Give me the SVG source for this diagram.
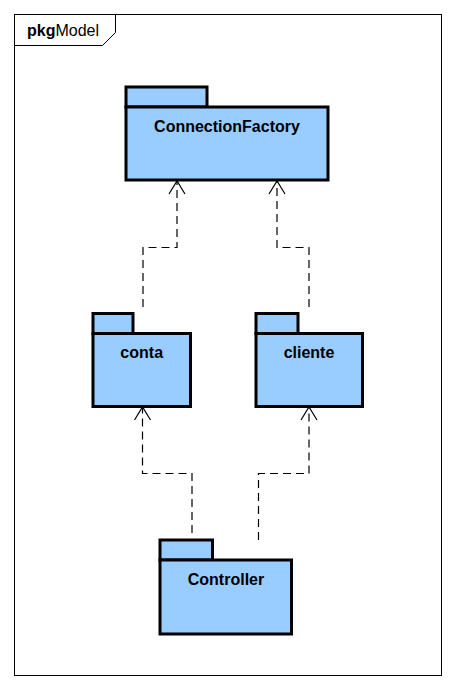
<svg xmlns="http://www.w3.org/2000/svg" width="454" height="688" viewBox="0 0 454 688">
<style>
.pk{fill:#99CCFF;stroke:#000;stroke-width:3}
.lbl{font-family:"Liberation Sans",Arial,sans-serif;font-size:16px;font-weight:bold;text-anchor:middle;fill:#000}
.dep{fill:none;stroke:#000;stroke-width:1.2;stroke-dasharray:8,5}
.ah{fill:none;stroke:#000;stroke-width:1.2}
</style>
<rect width="454" height="688" fill="#fff"/>
<g id="frame">
<rect x="14.5" y="14.5" width="427" height="661" fill="none" stroke="#000" stroke-width="1"/>
<path d="M14.5 45.5 H102.5 L115.5 32.5 V14.5" fill="none" stroke="#000" stroke-width="1"/>
<text x="27" y="36" font-family="'Liberation Sans',Arial,sans-serif" font-size="16"><tspan font-weight="bold">pkg</tspan>Model</text>
</g>
<g id="connectors">
<path class="dep" d="M143 307 V247.5 H177 V182"/>
<path class="ah" d="M169 194 L177 181 L185 194"/>
<path class="dep" d="M309 307 V247.5 H277 V182"/>
<path class="ah" d="M269 194 L277 181 L285 194"/>
<path class="dep" d="M192 533 V473.5 H142.5 V408"/>
<path class="ah" d="M134.5 420 L142.5 407 L150.5 420"/>
<path class="dep" d="M258.5 540 V473.5 H309 V408"/>
<path class="ah" d="M301 420 L309 407 L317 420"/>
</g>
<g id="ConnectionFactory">
<rect class="pk" x="126" y="87" width="81" height="20"/>
<rect class="pk" x="126" y="107" width="202" height="73"/>
<text class="lbl" x="227" y="132">ConnectionFactory</text>
</g>
<g id="conta">
<rect class="pk" x="93" y="313.5" width="40" height="20"/>
<rect class="pk" x="93" y="333.5" width="97.5" height="73"/>
<text class="lbl" x="141.7" y="358">conta</text>
</g>
<g id="cliente">
<rect class="pk" x="256" y="313.5" width="42" height="20"/>
<rect class="pk" x="256" y="333.5" width="106.5" height="73"/>
<text class="lbl" x="309" y="358">cliente</text>
</g>
<g id="Controller">
<rect class="pk" x="160" y="540" width="52.5" height="20"/>
<rect class="pk" x="160" y="560" width="131.5" height="74"/>
<text class="lbl" x="226" y="584.5">Controller</text>
</g>
</svg>
